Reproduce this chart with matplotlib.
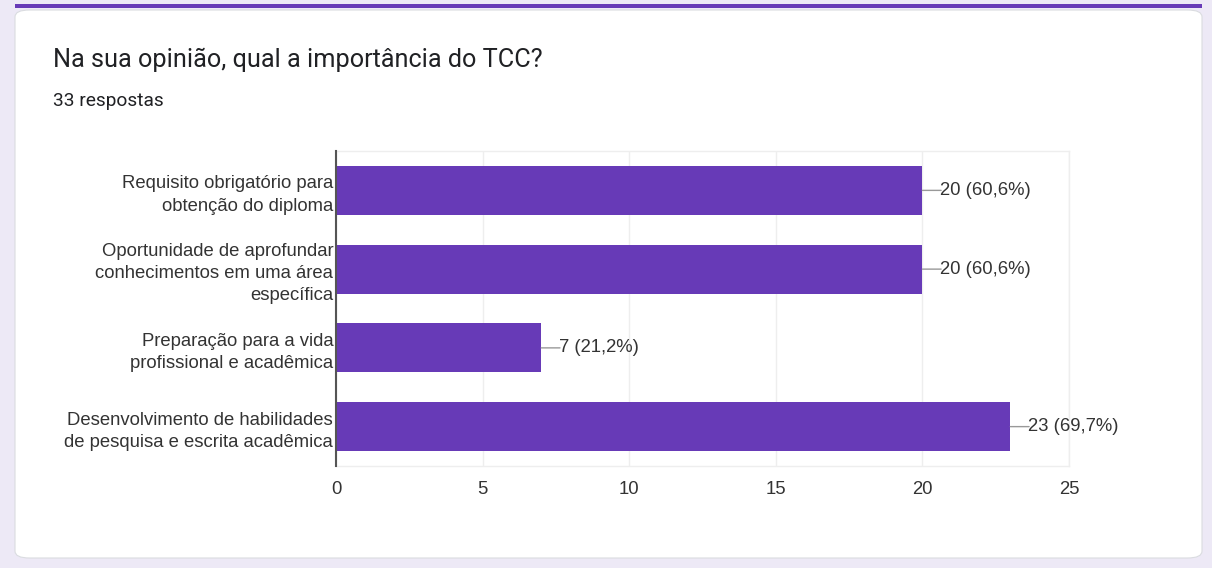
import matplotlib
matplotlib.use("Agg")
import matplotlib.pyplot as plt
from matplotlib.patches import FancyBboxPatch, Rectangle

categories = [
    "Requisito obrigatório para\nobtenção do diploma",
    "Oportunidade de aprofundar\nconhecimentos em uma área\nespecífica",
    "Preparação para a vida\nprofissional e acadêmica",
    "Desenvolvimento de habilidades\nde pesquisa e escrita acadêmica",
]
counts = [20, 20, 7, 23]
percents = ["60,6%", "60,6%", "21,2%", "69,7%"]
xticks = [0, 5, 10, 15, 20, 25]
title = "Na sua opinião, qual a importância do TCC?"
subtitle = "33 respostas"

plt.rcParams['font.family'] = ['Roboto', 'DejaVu Sans']
AX_FONT = ['Liberation Sans', 'DejaVu Sans']

W, H = 1212, 568
fig = plt.figure(figsize=(W / 100, H / 100), dpi=100)
fig.patch.set_facecolor("#EDE9F6")

# card
card = FancyBboxPatch((15 / W, 10 / H), (1202 - 15) / W, (563 - 10 - 5) / H,
                      boxstyle="round,pad=0,rounding_size=0.012",
                      transform=fig.transFigure, facecolor="white",
                      edgecolor="#DADCE0", linewidth=0.8, zorder=-2)
fig.patches.append(card)
fig.patches.append(Rectangle((15 / W, 1 - 8 / H), (1202 - 15) / W, 4 / H,
                             transform=fig.transFigure, facecolor="#673AB7",
                             edgecolor="none", zorder=-1))

fig.text(53 / W, 1 - 60 / H, title, fontsize=18.2, color="#202124", va="center", ha="left")
fig.text(53 / W, 1 - 101 / H, subtitle, fontsize=13.8, color="#202124", va="center", ha="left")

ax = fig.add_axes([336 / W, 1 - 466 / H, (1069 - 336) / W, (466 - 151) / H])
ax.set_zorder(2)
ax.set_facecolor("white")
y = list(range(len(categories)))
ax.barh(y, counts, height=0.62, color="#673AB7", zorder=3)
ax.set_xlim(0, 25)
ax.set_ylim(len(categories) - 0.5, -0.5)
ax.set_xticks(xticks)
ax.set_xticklabels([str(t) for t in xticks], family=AX_FONT)
ax.set_yticks(y)
ax.set_yticklabels(categories, linespacing=1.4, family=AX_FONT)
ax.tick_params(axis="both", length=0, labelsize=13.3, labelcolor="#333333")
ax.tick_params(axis="x", pad=11)
ax.tick_params(axis="y", pad=2)
ax.grid(axis="x", color="#EEEEEE", linewidth=1, zorder=0)
for s in ["top", "right", "bottom"]:
    ax.spines[s].set_color("#EEEEEE")
    ax.spines[s].set_linewidth(1)
ax.spines["left"].set_color("#555555")
ax.spines["left"].set_linewidth(1.5)
ax.spines["left"].set_zorder(4)

for yi, c, p in zip(y, counts, percents):
    ax.annotate("", xy=(c, yi), xytext=(13.5, 0), textcoords="offset points",
                arrowprops=dict(arrowstyle="-", color="#999999", lw=1,
                                shrinkA=0, shrinkB=0), zorder=4)
    ax.annotate(f"{c} ({p})", xy=(c, yi), xytext=(13, 0), textcoords="offset points",
                va="center", ha="left", fontsize=13.3, color="#333333", zorder=5,
                family=AX_FONT)

fig.savefig("out.png", dpi=100, facecolor=fig.get_facecolor())
